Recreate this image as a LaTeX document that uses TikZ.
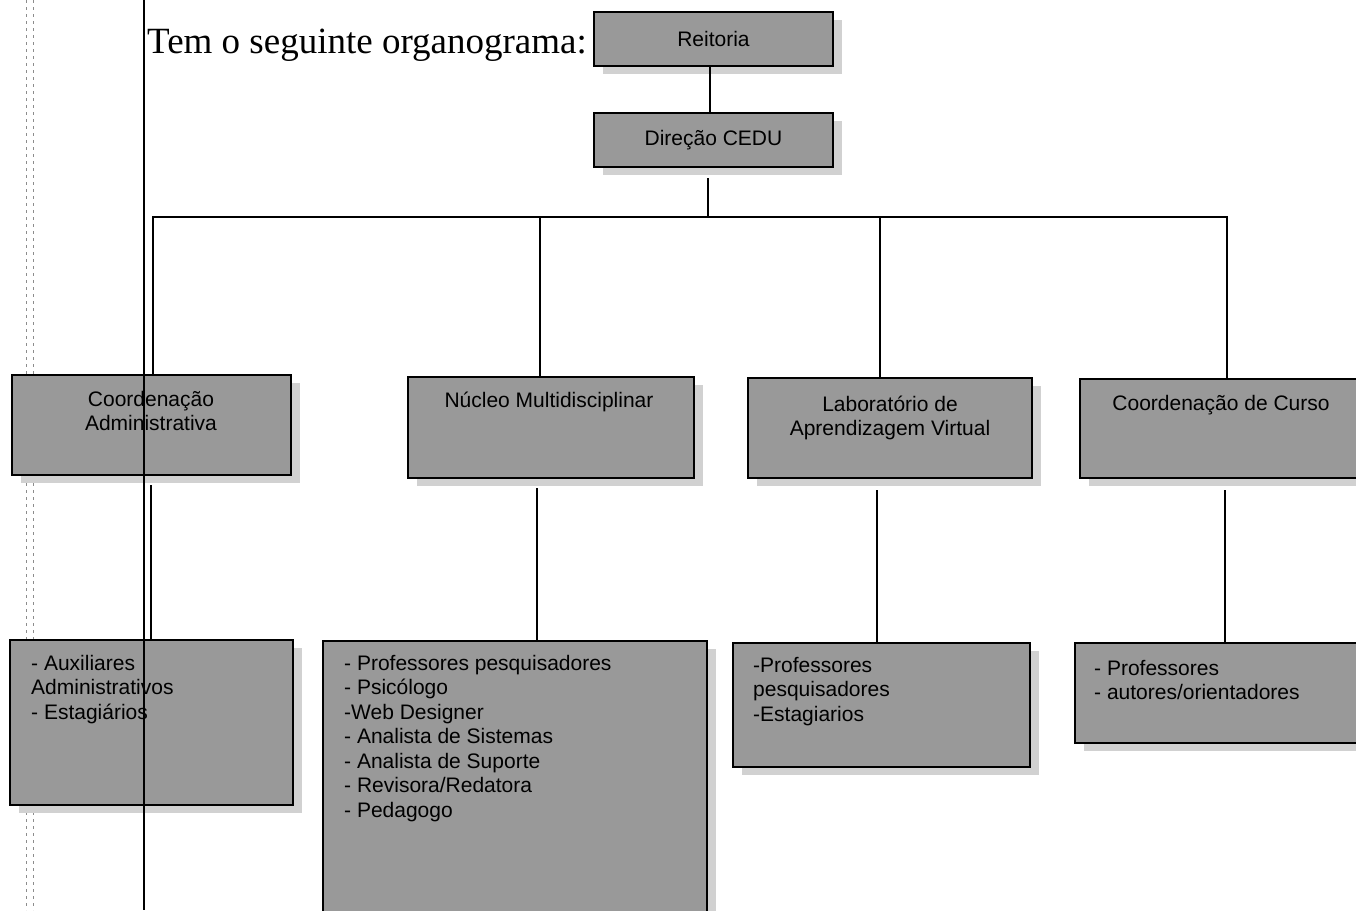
\documentclass[tikz,border=0pt]{standalone}
\usepackage{fontspec}
\setmainfont{Liberation Serif}
\newfontfamily\boxfont{Liberation Sans}
\usetikzlibrary{shadows}

\definecolor{boxgray}{gray}{0.6}
\definecolor{shadegray}{gray}{0.82}
\definecolor{marginmark}{gray}{0.55}

% multi-line labels whose baseline is that of the first line
\newcommand{\linesL}[1]{\begin{tabular}[t]{@{}l@{}}#1\end{tabular}}
\newcommand{\linesC}[1]{\begin{tabular}[t]{@{}c@{}}#1\end{tabular}}

\tikzset{
  orgbox/.style={draw=black, line width=1.8pt, fill=boxgray, rectangle,
    inner sep=0pt, outer sep=0pt, anchor=north west,
    drop shadow={shadow xshift=9pt, shadow yshift=-8pt, fill=shadegray, opacity=1}},
  boxtext/.style={inner sep=0pt, font=\boxfont\fontsize{21}{24.5}\selectfont},
  link/.style={draw=black, line width=1.6pt},
  margin/.style={draw=black, line width=1.3pt},
  guide/.style={draw=marginmark, line width=0.8pt, dash pattern=on 3pt off 4pt}
}

\begin{document}
\begin{tikzpicture}[x=1pt, y=-1pt]
\path[use as bounding box, clip] (0,0) rectangle (1356,910);
\fill[white] (0,0) rectangle (1356,910);

% page guides on the left
\draw[guide] (26,0) -- (26,910);
\draw[guide] (33,0) -- (33,910);

% heading
\node[anchor=base west, inner sep=0pt, font=\fontsize{37}{40}\selectfont] (title) at (147,53) {Tem o seguinte organograma:};

% boxes
\node[orgbox, minimum width=239pt, minimum height=54pt] (reit) at (594,12) {};
\node[orgbox, minimum width=239pt, minimum height=54pt] (dir) at (594,113) {};
\node[orgbox, minimum width=279pt, minimum height=100pt] (coadm) at (12,375) {};
\node[orgbox, minimum width=286pt, minimum height=101pt] (nucleo) at (408,377) {};
\node[orgbox, minimum width=284pt, minimum height=100pt] (lab) at (748,378) {};
\node[orgbox, minimum width=282pt, minimum height=99pt] (curso) at (1080,379) {};
\node[orgbox, minimum width=283pt, minimum height=165pt] (aux) at (10,640) {};
\node[orgbox, minimum width=384pt, minimum height=300pt] (nsub) at (323,641) {};
\node[orgbox, minimum width=297pt, minimum height=124pt] (lsub) at (733,643) {};
\node[orgbox, minimum width=287pt, minimum height=100pt] (csub) at (1075,643) {};

% box labels
\node[boxtext] (treit) at (reit.center) {Reitoria};
\node[boxtext] (tdir) at (dir.center) {Direção CEDU};
\node[boxtext, anchor=base] (tcoadm) at (151,406) {\linesC{Coordenação\\Administrativa}};
\node[boxtext, anchor=base] (tnucleo) at (549,407) {Núcleo Multidisciplinar};
\node[boxtext, anchor=base] (tlab) at (890,411) {\linesC{Laboratório de\\Aprendizagem Virtual}};
\node[boxtext, anchor=base] (tcurso) at (1221,410) {Coordenação de Curso};
\node[boxtext, anchor=base west] (taux) at (31,670) {\linesL{- Auxiliares\\Administrativos\\- Estagiários}};
\node[boxtext, anchor=base west] (tnsub) at (344,670) {\linesL{- Professores pesquisadores\\- Psicólogo\\-Web Designer\\- Analista de Sistemas\\- Analista de Suporte\\- Revisora/Redatora\\- Pedagogo}};
\node[boxtext, anchor=base west] (tlsub) at (753,672) {\linesL{-Professores\\pesquisadores\\-Estagiarios}};
\node[boxtext, anchor=base west] (tcsub) at (1094,675) {\linesL{- Professores\\- autores/orientadores}};

% connectors
\coordinate (busL) at (153,217);
\coordinate (busR) at (1227,217);
\coordinate (busTop) at (708,178);
\coordinate (bus) at (708,217);
\coordinate (d2) at (540,217);
\coordinate (d3) at (880,217);

\draw[link] (reit.south -| 710,0) -- (dir.north -| 710,0);
\draw[link] (busTop) -- (bus);
\draw[link] (busL |- coadm.north) -- (busL) -- (busR) -- (busR |- curso.north);
\draw[link] (d2) -- (d2 |- nucleo.north);
\draw[link] (d3) -- (d3 |- lab.north);

\draw[link] (151,485) -- (151,0 |- aux.north);
\draw[link] (537,488) -- (537,0 |- nsub.north);
\draw[link] (877,490) -- (877,0 |- lsub.north);
\draw[link] (1225,490) -- (1225,0 |- csub.north);

% text margin rule, running over everything
\draw[margin] (144,0) -- (144,910);
\end{tikzpicture}
\end{document}
